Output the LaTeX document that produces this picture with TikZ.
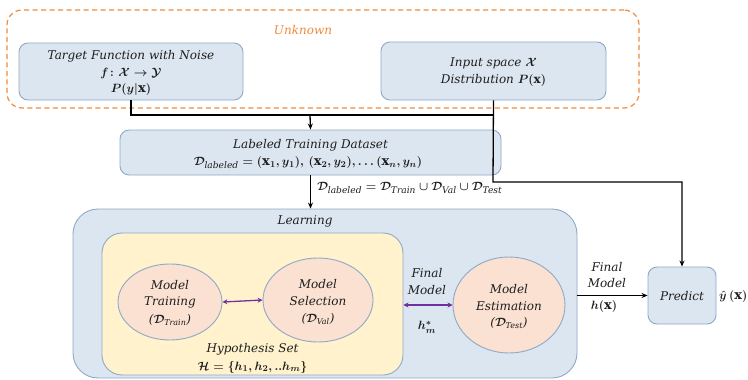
\documentclass[tikz,border=0pt]{standalone}
\usepackage{fontspec}
\usepackage{amsmath,amssymb}
\setmainfont{DejaVu Serif}
\usetikzlibrary{arrows.meta,shapes.geometric,calc}

\definecolor{boxblue}{HTML}{DCE6F0}
\definecolor{edgeblue}{HTML}{8EA9C8}
\definecolor{hypyellow}{HTML}{FFF2CC}
\definecolor{ovalpink}{HTML}{FAE1D2}
\definecolor{unkorange}{HTML}{F08A3C}
\definecolor{linkpurple}{HTML}{7030A0}
\definecolor{inkgrey}{HTML}{1E1E1E}

% bold upright vector x and italic text subscripts
\newcommand{\vx}{\textup{\textbf{x}}}
\newcommand{\sub}[1]{\textit{#1}}

\tikzset{
  txt/.style={font=\fontsize{12}{14}\selectfont\itshape\boldmath, text=inkgrey, inner sep=1pt},
  mth/.style={font=\fontsize{13}{15}\selectfont\itshape\boldmath, text=inkgrey, inner sep=1pt},
  bluebox/.style={draw=edgeblue, line width=0.9pt, fill=boxblue, rounded corners=9pt, inner sep=0pt},
  oval/.style={ellipse, draw=edgeblue, line width=0.9pt, fill=ovalpink, inner sep=0pt},
  flow/.style={draw=black, line width=1.3pt},
  flowarrow/.style={flow, -{Stealth[length=6pt,width=5pt]}},
  twoway/.style={draw=linkpurple, line width=1.3pt, {Stealth[length=5pt,width=5pt]}-{Stealth[length=5pt,width=5pt]}},
}

\begin{document}
\begin{tikzpicture}[x=1pt,y=-1pt]
\useasboundingbox (0,0) rectangle (748,380);

% unknown region
\node (unknown) [draw=unkorange, dashed, dash pattern=on 5pt off 3.5pt, line width=1.2pt,
  rounded corners=15pt, minimum width=632pt, minimum height=98pt] at (323,59) {};
\node (unklabel) [txt, text=unkorange] at (303,30) {Unknown};

% top boxes
\node (target) [bluebox, minimum width=224pt, minimum height=57pt] at (131,71.5) {};
\node [txt] at (131,56) {Target Function with Noise};
\node [mth] at (131,73) {$f\colon \mathcal{X}\rightarrow\mathcal{Y}$};
\node [mth] at (131,89.5) {$P(y|\vx)$};

\node (input) [bluebox, minimum width=225pt, minimum height=58pt] at (493.5,71) {};
\node [txt] at (493.5,63) {Input space $\mathcal{X}$};
\node [txt] at (493.5,80) {Distribution $P(\vx)$};

% labeled dataset
\node (labeled) [bluebox, minimum width=381pt, minimum height=45pt] at (310.5,152.5) {};
\node [txt] at (310.5,145) {Labeled Training Dataset};
\node [mth] at (308,162.5) {$\mathcal{D}_{\sub{labeled}}=(\vx_1,y_1),\,(\vx_2,y_2),\ldots(\vx_n,y_n)$};

% learning block
\node (learning) [draw=edgeblue, line width=0.9pt, fill=boxblue, rounded corners=25pt,
  minimum width=504pt, minimum height=169pt] at (325,293.5) {};
\node (learnlabel) [txt] at (305,221) {Learning};

\node (hyp) [draw=edgeblue, line width=0.9pt, fill=hypyellow, rounded corners=20pt,
  minimum width=301pt, minimum height=142pt] at (252.5,304) {};
\node [txt] at (252.5,349) {Hypothesis Set};
\node [mth] at (252.5,367) {$\mathcal{H}=\{h_1,h_2,..h_m\}$};

\node (train) [oval, minimum width=104pt, minimum height=76pt] at (170,302) {};
\node [txt] at (170,285) {Model};
\node [txt] at (170,302) {Training};
\node [txt] at (170,320) {($\mathcal{D}_{\sub{Train}}$)};

\node (select) [oval, minimum width=110pt, minimum height=84pt] at (318,300) {};
\node [txt] at (318,284) {Model};
\node [txt] at (318,301) {Selection};
\node [txt] at (318,319) {($\mathcal{D}_{\sub{Val}}$)};

\node (estim) [oval, minimum width=112pt, minimum height=96pt] at (509,305) {};
\node [txt] at (509,289) {Model};
\node [txt] at (509,306) {Estimation};
\node [txt] at (509,323) {($\mathcal{D}_{\sub{Test}}$)};

\node [txt] at (427,273) {Final};
\node [txt] at (427,290) {Model};
\node [mth] at (427,327) {$h_m^{*}$};

% predict
\node (predict) [bluebox, minimum width=68pt, minimum height=57pt] at (682,295.5) {};
\node [txt] at (682,296) {Predict};
\node (yhat) [mth, anchor=west, inner sep=0pt] at (719,296) {$\hat{y}\,(\vx)$};

\node [txt] at (607,267) {Final};
\node [txt] at (607,283) {Model};
\node [mth] at (604,306) {$h(\vx)$};

% connectors
\coordinate (merge) at (310,115);
\draw[flow] (target.south) -- (target.south |- merge) -- (input.south |- merge);
\draw[flowarrow] (merge) -- (labeled.north);
\coordinate (turn) at (493,182);
\draw[flowarrow] (input.south) -- (turn) -- (turn -| predict.north) -- (predict.north);
\draw[flowarrow] (labeled.south) -- (labeled.south |- learning.north);
\node [mth, anchor=west] at (316,188) {$\mathcal{D}_{\sub{labeled}}=\mathcal{D}_{\sub{Train}}\cup\mathcal{D}_{\sub{Val}}\cup\mathcal{D}_{\sub{Test}}$};
\draw[flowarrow] (learning.east |- predict.west) -- (predict.west);

\draw[twoway] (train.east) -- (select.west);
\draw[twoway] (hyp.east |- estim.west) -- (estim.west);
\end{tikzpicture}
\end{document}
